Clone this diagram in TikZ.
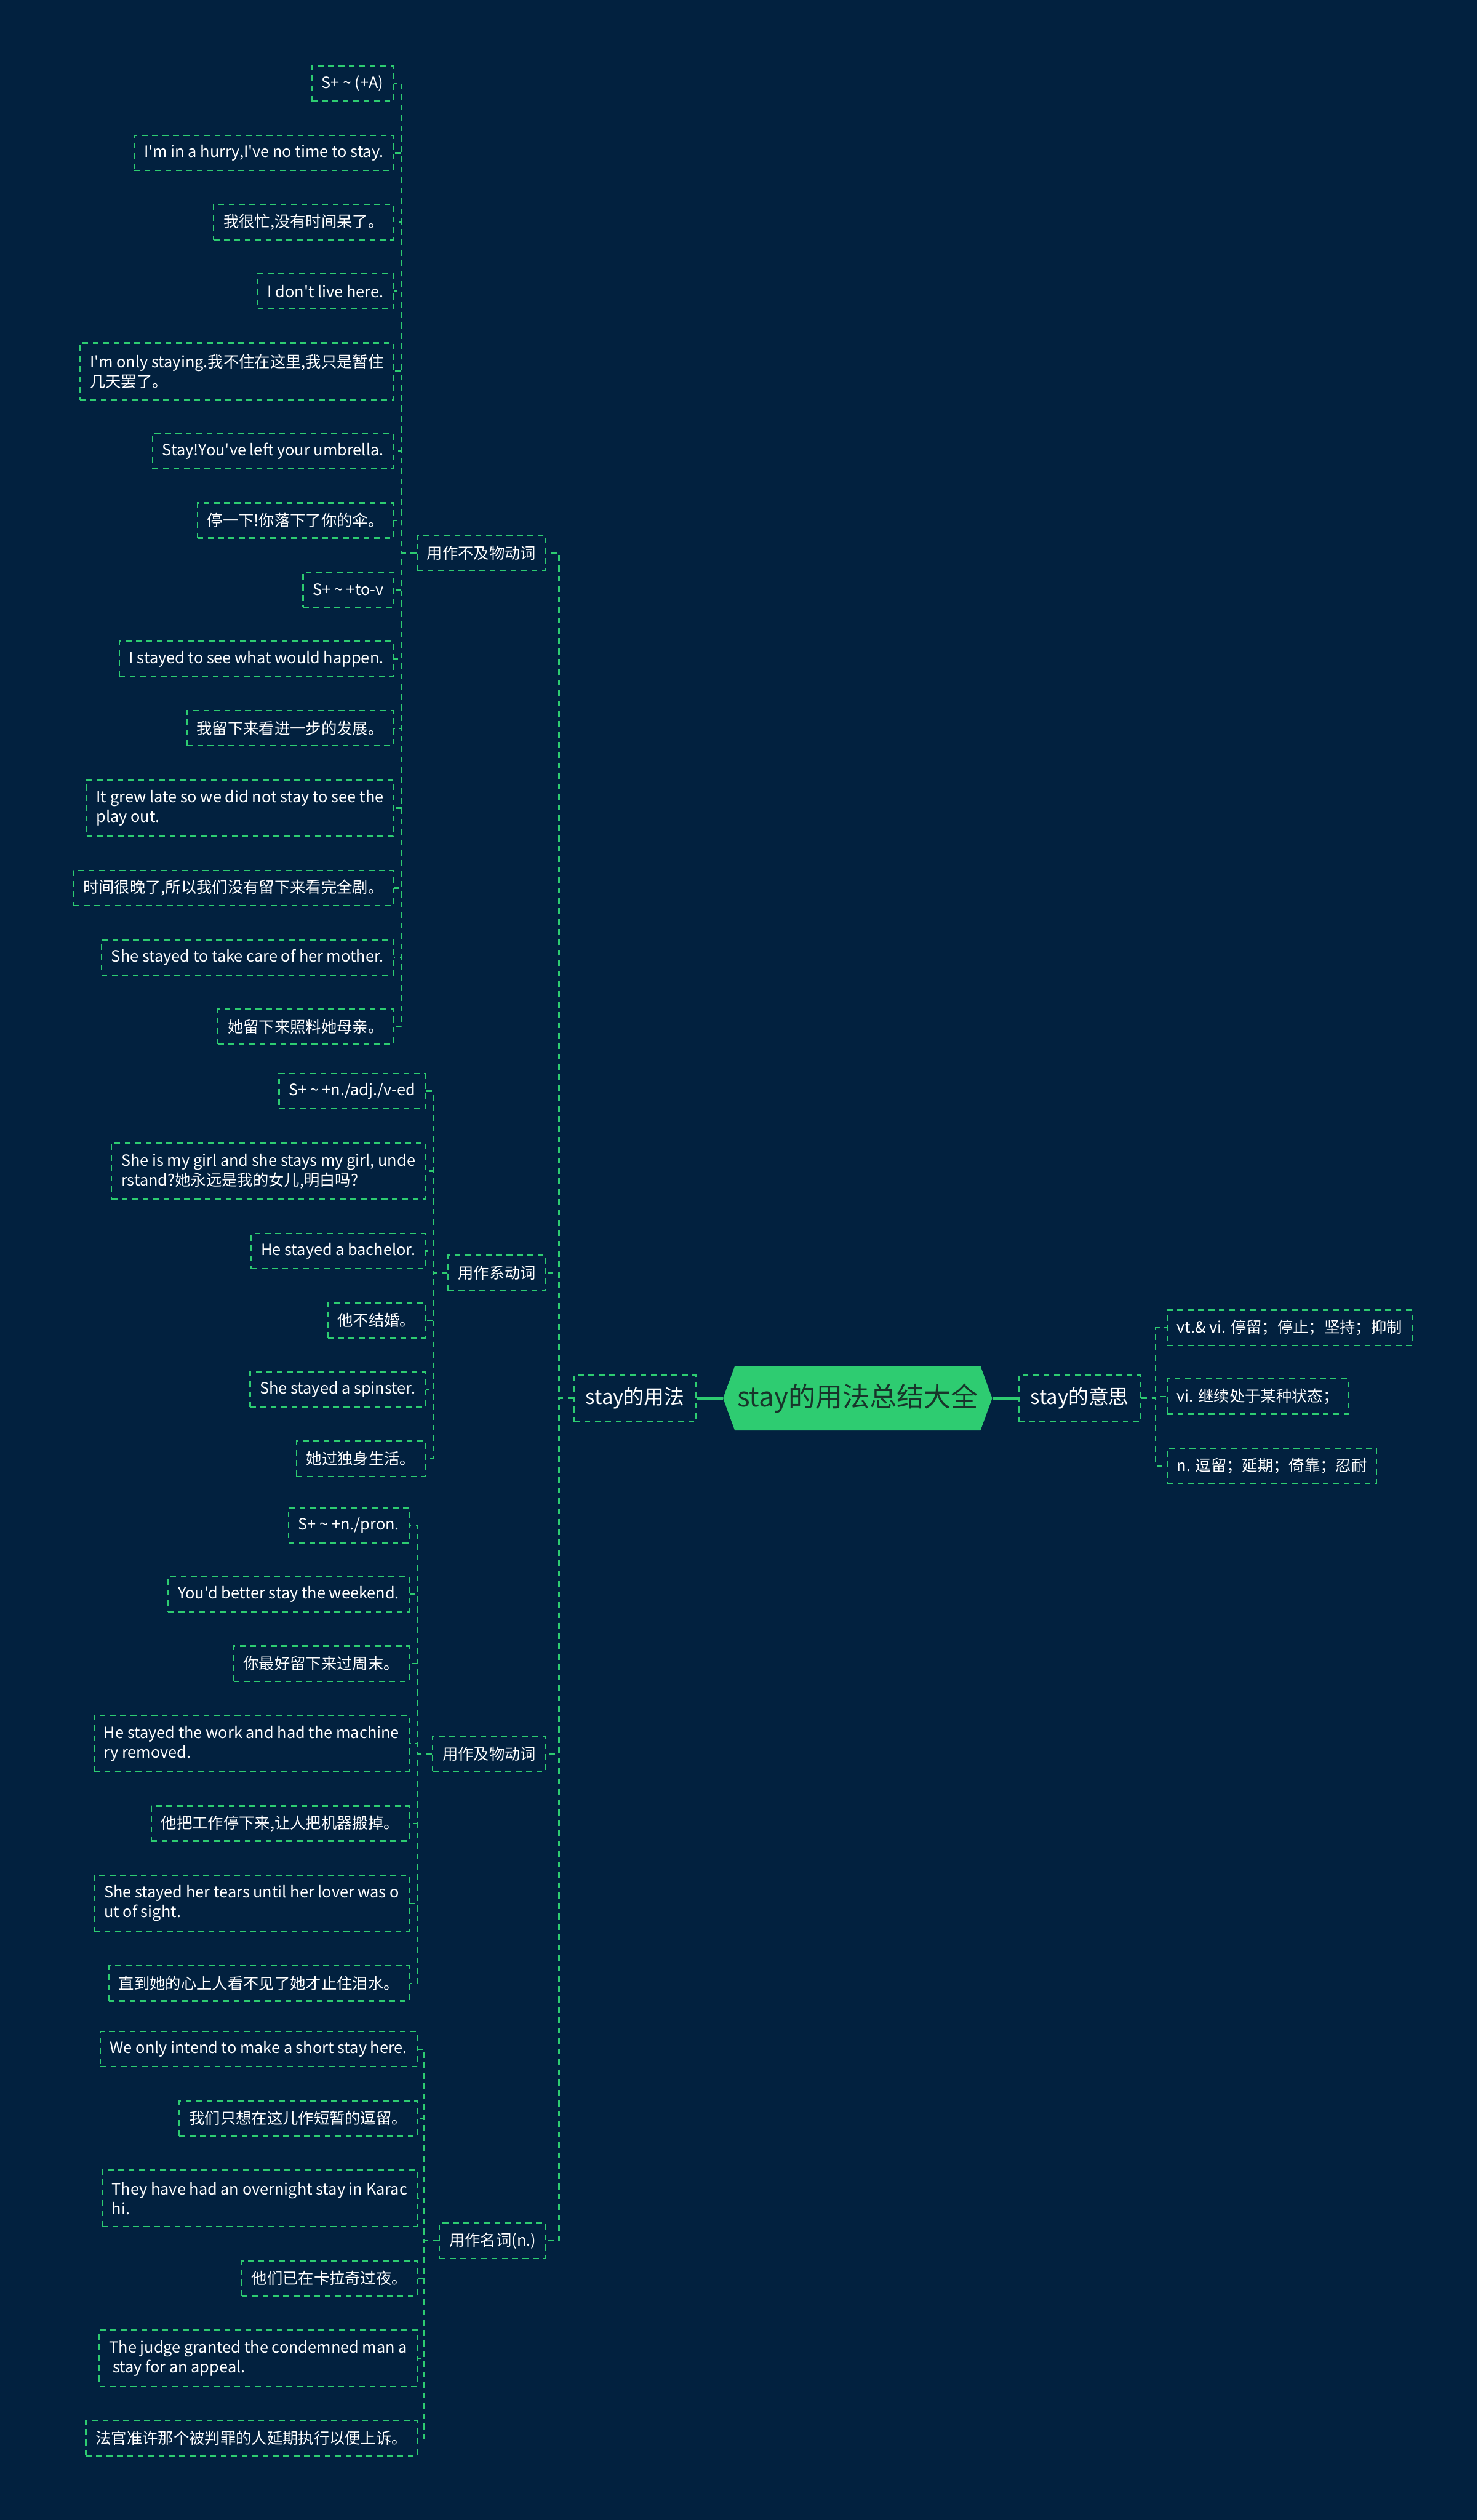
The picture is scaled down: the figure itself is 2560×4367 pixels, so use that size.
\documentclass[tikz,border=0pt]{standalone}
\usepackage{fontspec}
\newfontfamily\mapfont{Noto Sans CJK SC}
\usetikzlibrary{positioning,shapes.symbols}
\definecolor{mapbg}{RGB}{2,33,63}
\definecolor{mapgreen}{RGB}{46,204,113}
\definecolor{mapdark}{RGB}{24,52,42}
\tikzset{
  map root/.style={
    shape=signal, signal to=west and east, signal pointer angle=140,
    fill=mapgreen, text=mapdark, minimum width=464pt, minimum height=112pt,
    inner xsep=4pt, font=\mapfont\fontsize{47}{56}\selectfont
  },
  map box/.style={
    rectangle, draw=mapgreen, line width=2.5pt, dash pattern=on 10pt off 8pt,
    text=white, inner xsep=17pt, inner ysep=8pt, minimum height=61pt,
    align=left, font=\mapfont\fontsize{27}{34}\selectfont
  },
  map topic/.style={map box, minimum height=81pt, inner xsep=20pt,
    font=\mapfont\fontsize{35}{42}\selectfont},
  map leaf/.style={map box, anchor=east},
  leaf after/.style={map box, below=of #1.south east, anchor=north east},
  two lines/.style={minimum height=98pt},
  map link/.style={draw=mapgreen, line width=2.5pt, dash pattern=on 10pt off 8pt},
  map trunk/.style={draw=mapgreen, line width=5pt}
}

\begin{document}
\begin{tikzpicture}[x=1pt, y=-1pt, node distance=56.5pt]
    \fill[mapbg] (0,0) rectangle (2560,4367);
    % centre and the two main topics
    \node[map root] (root) at (1486,2423) {stay的用法总结大全};
    \node[map topic, anchor=east] (usage) at (1207,2423) {stay的用法};
    \node[map topic, anchor=west] (meaning) at (1764,2423) {stay的意思};
    \draw[map trunk] (root.west) -- (usage.east);
    \draw[map trunk] (root.east) -- (meaning.west);

    % meanings
    \node[map box, anchor=west] (m1) at (2021,2301) {vt.\& vi. 停留；停止；坚持；抑制};
    \node[map box, anchor=west] (m2) at (2021,2420) {vi. 继续处于某种状态；};
    \node[map box, anchor=west] (m3) at (2021,2540) {n. 逗留；延期；倚靠；忍耐};
    \foreach \m in {m1,m2,m3}
      \draw[map link] (meaning.east) -- ++(25,0) |- (\m.west);

    % usage branches
    \node[map box, anchor=east] (intrans) at (947,958) {用作不及物动词};
    \node[map box, anchor=east] (linking) at (947,2206) {用作系动词};
    \node[map box, anchor=east] (trans) at (947,3039) {用作及物动词};
    \node[map box, anchor=east] (noun) at (947,3883) {用作名词(n.)};
    \foreach \b in {intrans,linking,trans,noun}
      \draw[map link] (usage.west) -- ++(-25,0) |- (\b.east);

    % intransitive verb
    \node[map leaf] (a1) at (683,145) {S+ \textasciitilde{} (+A)};
    \node[leaf after=a1] (a2) {I'm in a hurry,I've no time to stay.};
    \node[leaf after=a2] (a3) {我很忙,没有时间呆了。};
    \node[leaf after=a3] (a4) {I don't live here.};
    \node[leaf after=a4, two lines] (a5) {I'm only staying.我不住在这里,我只是暂住\\几天罢了。};
    \node[leaf after=a5] (a6) {Stay!You've left your umbrella.};
    \node[leaf after=a6] (a7) {停一下!你落下了你的伞。};
    \node[leaf after=a7] (a8) {S+ \textasciitilde{} +to-v};
    \node[leaf after=a8] (a9) {I stayed to see what would happen.};
    \node[leaf after=a9] (a10) {我留下来看进一步的发展。};
    \node[leaf after=a10, two lines] (a11) {It grew late so we did not stay to see the\\play out.};
    \node[leaf after=a11] (a12) {时间很晚了,所以我们没有留下来看完全剧。};
    \node[leaf after=a12] (a13) {She stayed to take care of her mother.};
    \node[leaf after=a13] (a14) {她留下来照料她母亲。};
    \foreach \i in {1,...,14}
      \draw[map link] (intrans.west) -- ++(-25,0) |- (a\i.east);

    % linking verb
    \node[map leaf] (b1) at (738,1891) {S+ \textasciitilde{} +n./adj./v-ed};
    \node[leaf after=b1, two lines] (b2) {She is my girl and she stays my girl, unde\\rstand?她永远是我的女儿,明白吗?};
    \node[leaf after=b2] (b3) {He stayed a bachelor.};
    \node[leaf after=b3] (b4) {他不结婚。};
    \node[leaf after=b4] (b5) {She stayed a spinster.};
    \node[leaf after=b5] (b6) {她过独身生活。};
    \foreach \i in {1,...,6}
      \draw[map link] (linking.west) -- ++(-25,0) |- (b\i.east);

    % transitive verb
    \node[map leaf] (c1) at (710,2643) {S+ \textasciitilde{} +n./pron.};
    \node[leaf after=c1] (c2) {You'd better stay the weekend.};
    \node[leaf after=c2] (c3) {你最好留下来过周末。};
    \node[leaf after=c3, two lines] (c4) {He stayed the work and had the machine\\ry removed.};
    \node[leaf after=c4] (c5) {他把工作停下来,让人把机器搬掉。};
    \node[leaf after=c5, two lines] (c6) {She stayed her tears until her lover was o\\ut of sight.};
    \node[leaf after=c6] (c7) {直到她的心上人看不见了她才止住泪水。};
    \foreach \i in {1,...,7}
      \draw[map link] (trans.west) -- ++(-25,0) |- (c\i.east);

    % noun
    \node[map leaf] (d1) at (724,3551) {We only intend to make a short stay here.};
    \node[leaf after=d1] (d2) {我们只想在这儿作短暂的逗留。};
    \node[leaf after=d2, two lines] (d3) {They have had an overnight stay in Karac\\hi.};
    \node[leaf after=d3] (d4) {他们已在卡拉奇过夜。};
    \node[leaf after=d4, two lines] (d5) {The judge granted the condemned man a\\\ stay for an appeal.};
    \node[leaf after=d5] (d6) {法官准许那个被判罪的人延期执行以便上诉。};
    \foreach \i in {1,...,6}
      \draw[map link] (noun.west) -- ++(-25,0) |- (d\i.east);
\end{tikzpicture}
\end{document}
